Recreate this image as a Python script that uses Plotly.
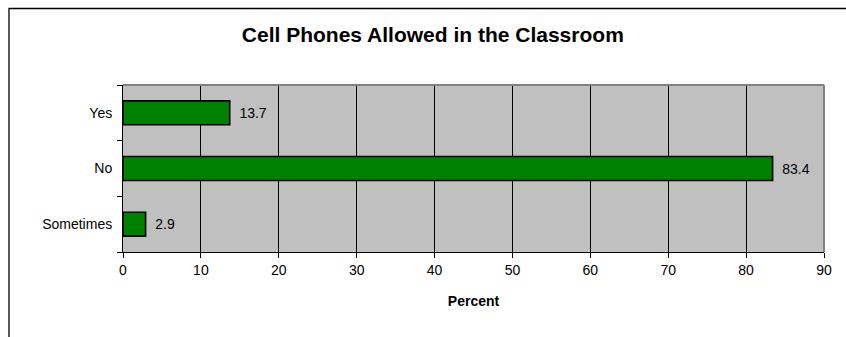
import plotly.graph_objects as go

# Survey responses
categories = ["Sometimes", "No", "Yes"]
percents = [2.9, 83.4, 13.7]
x_ticks = [0, 10, 20, 30, 40, 50, 60, 70, 80, 90]

FONT = "Liberation Sans, Arial, sans-serif"

fig = go.Figure(
    go.Bar(
        y=categories,
        x=percents,
        orientation="h",
        width=0.43,
        marker=dict(color="#008000", line=dict(color="black", width=1.6)),
        text=["\u00a0\u2009" + f"{v:.1f}" for v in percents],
        textposition="outside",
        textfont=dict(family=FONT, size=14, color="black"),
        cliponaxis=False,
    )
)

fig.update_layout(
    width=846,
    height=337,
    margin=dict(l=123, r=22, t=85, b=85),
    paper_bgcolor="white",
    plot_bgcolor="#C0C0C0",
    showlegend=False,
    font=dict(family=FONT, size=14, color="black"),
    title=dict(
        text="<b>Cell Phones Allowed in the Classroom</b>",
        font=dict(family=FONT, size=21, color="black"),
        x=0.442,
        xref="paper",
        xanchor="center",
        y=1 - 35 / 337,
        yref="container",
        yanchor="middle",
    ),
    xaxis=dict(
        range=[0, 90],
        tickvals=x_ticks,
        ticks="outside",
        ticklen=5,
        tickcolor="black",
        showgrid=True,
        gridcolor="black",
        gridwidth=1,
        showline=True,
        linecolor="black",
        linewidth=1,
        zeroline=False,
        tickfont=dict(family=FONT, size=14),
        title=dict(text="<b>Percent</b>", font=dict(family=FONT, size=14), standoff=19),
        fixedrange=True,
    ),
    yaxis=dict(
        categoryorder="array",
        categoryarray=categories,
        tickson="boundaries",
        ticks="outside",
        ticklen=5,
        tickcolor="black",
        showgrid=False,
        showline=True,
        linecolor="black",
        linewidth=1,
        tickfont=dict(family=FONT, size=14),
        ticklabelstandoff=7,
        fixedrange=True,
    ),
    bargap=0.57,
)

# grey frame on top and right of the plot area
fig.add_shape(type="line", xref="paper", yref="paper", x0=0, x1=1, y0=1, y1=1,
              line=dict(color="#808080", width=2))
fig.add_shape(type="line", xref="paper", yref="paper", x0=1, x1=1, y0=0, y1=1,
              line=dict(color="#808080", width=2))

# outer chart border
fig.add_shape(type="rect", xref="paper", yref="paper",
              x0=(9 - 123) / 701, x1=1.2, y0=(252 - 8.5) / 167, y1=-1.0,
              line=dict(color="black", width=1.3), fillcolor="rgba(0,0,0,0)")

fig.write_html("out.html")
